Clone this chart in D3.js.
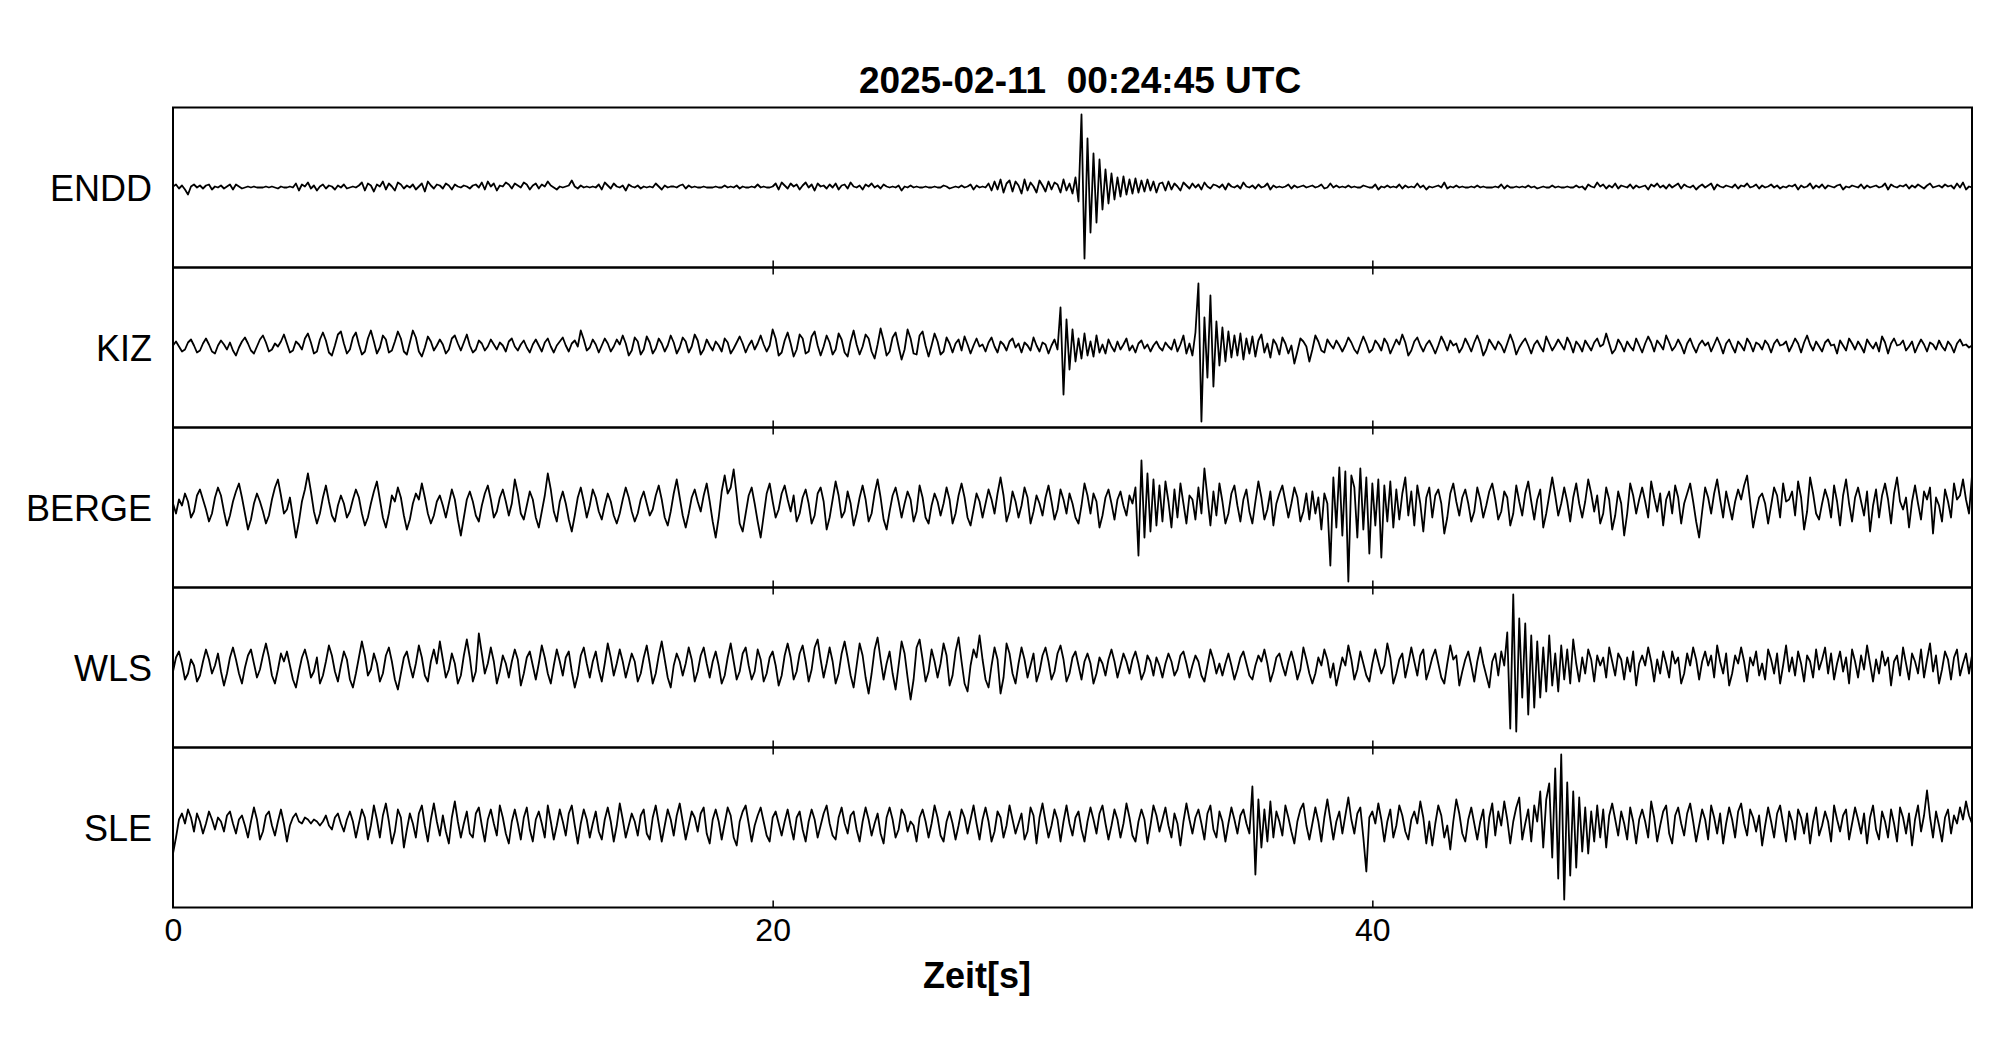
<!DOCTYPE html>
<html>
<head>
<meta charset="utf-8">
<script src="https://cdn.jsdelivr.net/npm/d3@7"></script>
<style>
body { margin: 0; background: #fff; }
text { font-family: "Liberation Sans", Arial, sans-serif; fill: #000; }
</style>
</head>
<body>
<div id="chart"></div>
<script>
// Chart content
var title = "2025-02-11  00:24:45 UTC";
var xLabel = "Zeit[s]";
var stations = ["ENDD", "KIZ", "BERGE", "WLS", "SLE"];
var xTicks = [0, 20, 40];
var sampleRate = 10; // samples per second, t = i / sampleRate

// Traces, one line = one second (amplitude in display units, +-80 = panel edge)
var endd = [
  1, 3, -1, 2, -2, -7, 1, 3, 0, 2,
  -1, 2, 3, -2, 1, 0, 2, -1, 1, 3,
  -2, 3, 1, -1, 0, 1, 0, 1, 0, 0,
  0, 1, 0, 1, 0, -1, 1, 0, 0, 1,
  0, 4, -3, 3, 1, 5, -1, 2, -3, 1,
  3, -1, 2, 1, -2, 2, 0, 3, -1, 0,
  1, 0, 2, 5, -3, 4, 2, -4, 3, 1,
  6, -2, 4, 1, -3, 5, 3, -1, 2, 0,
  3, -2, 1, 4, -4, 6, 2, -1, 3, 2,
  -1, 4, 2, -2, 3, 1, 0, 2, 1, -1,
  2, 3, 0, 5, -2, 6, 1, 4, -3, 2,
  1, 5, 3, -1, 4, 2, 0, 5, 3, -2,
  2, 4, -1, 3, 1, 6, 2, 0, -2, 1,
  0, 1, 2, 7, 1, -1, 2, 0, 1, 0,
  1, 0, 3, -2, 5, 2, -1, 4, 1, 0,
  2, -3, 3, 1, 0, 2, -1, 1, 0, 1,
  0, 4, 1, -2, 2, 0, 1, 1, 0, 2,
  3, -1, 2, 0, 1, 0, 0, 1, 0, 0,
  0, 1, 0, 0, 2, 0, 1, 0, 2, -1,
  1, 0, 0, 1, 0, 3, 0, 1, 0, 0,
  1, 4, -2, 5, 2, -1, 4, 1, 3, -2,
  2, 5, 0, 3, -3, 4, 1, 2, -1, 3,
  0, 4, -2, 2, 3, -1, 5, 1, 0, 2,
  -2, 3, 1, 4, 0, 2, -1, 3, 1, 0,
  1, 0, 2, -3, 1, 0, 2, 0, 1, 0,
  0, 1, 0, 0, 1, 0, 0, 2, 1, -1,
  0, 1, 0, 2, 0, 1, 3, -2, 2, 0,
  1, 0, 4, -3, 6, -2, 8, -5, 4, 7,
  -4, 6, 2, -6, 8, -3, 5, 1, -5, 7,
  2, -4, 6, -2, 5, 3, -5, 8, -3, 4,
  -6, 10, -14, 73, -71, 49, -45, 34, -35, 28,
  -22, 18, -16, 14, -12, 10, -9, 11, -7, 8,
  -6, 9, -5, 7, -4, 8, -3, 6, -5, 4,
  5, -3, 6, -2, 4, 1, -3, 5, 2, -1,
  4, 0, 3, -2, 5, 1, -1, 3, 2, 0,
  3, -2, 4, 1, 0, 2, -1, 5, 1, 0,
  2, -1, 3, 0, 1, 4, -2, 2, 0, 1,
  0, 1, 3, -1, 2, 0, 1, 2, 0, 1,
  2, 0, 1, 3, -1, 0, 4, 0, 2, 0,
  1, 0, 2, 0, 1, 0, 0, 2, 1, 0,
  0, 3, -2, 1, 0, 2, 0, 1, 0, 3,
  -1, 2, 0, 1, 0, 4, 0, 2, -2, 1,
  0, 1, 2, 0, 5, -1, 1, 0, 2, 0,
  1, 0, 0, 1, 0, 2, 0, 1, 0, 0,
  0, 1, 0, 3, -1, 2, 0, 0, 1, 0,
  1, 0, 2, 0, 1, -1, 0, 1, 0, 0,
  2, 0, 1, 0, 0, 1, 0, 0, 2, 0,
  1, -2, 3, 1, 0, 5, 1, 3, -1, 2,
  0, 4, -1, 2, 1, 0, 3, -1, 2, 0,
  1, 2, -2, 3, 1, 4, 0, 2, -1, 3,
  0, 2, 4, -1, 3, 1, 0, 2, -2, 1,
  3, 0, 2, 4, -2, 3, 1, 0, 2, 1,
  0, 3, -1, 2, 1, 4, 0, 1, 3, -1,
  2, 0, 1, 3, 0, 2, -1, 1, 0, 2,
  1, 3, -2, 2, 0, 1, 4, -1, 2, 0,
  3, -1, 2, 1, 0, 2, 3, -2, 1, 0,
  2, 1, 0, 3, -1, 2, 0, 1, 2, 0,
  1, 4, -2, 3, 1, 0, 2, 1, 3, -1,
  2, 0, 3, 1, -1, 2, 4, 0, 1, 2,
  0, 3, 1, 2, -1, 4, 0, 5, -2, 1,
  0
];

var kiz = [
  2, 6, 1, -4, -2, 5, 8, 2, -5, -3,
  4, 9, 3, -4, -6, 2, 7, 3, -2, 5,
  -3, -8, 0, 6, 10, 4, -3, -6, 1, 8,
  12, 5, -4, -2, 4, 1, 6, 13, 4, -5,
  -3, 6, 3, -2, 9, 14, 5, -6, -4, 8,
  15, 7, -5, -8, 2, 13, 16, 4, -6, -2,
  10, 15, 3, -7, -4, 9, 17, 6, -6, 0,
  12, 8, -5, -3, 6, 16, 9, -4, -7, 5,
  17, 10, -4, -9, 0, 11, 6, -3, 2, 8,
  3, -6, -2, 9, 12, 4, -3, 5, 13, 2,
  -5, -2, 7, 4, -3, 1, 8, 3, -2, 5,
  2, -4, 6, 9, 1, -3, 3, 7, 0, -5,
  3, 8, 2, -4, 5, 9, 1, -5, 2, 6,
  10, 2, -4, 4, 7, 1, 17, 8, -3, 0,
  8, 3, -5, 2, 9, 4, -4, 1, 8, 3,
  12, 4, -8, -3, 10, 6, -7, -2, 11, 5,
  -6, -1, 9, 4, -4, 2, 12, 5, -6, 0,
  10, 6, -5, 1, 13, 7, -7, -2, 8, 2,
  -3, 6, 2, -4, 9, 5, -6, -1, 5, 11,
  4, -5, 2, 7, -2, 4, 12, 3, -4, 2,
  18, 9, -8, -5, 7, 15, 4, -9, -2, 13,
  9, -6, -4, 11, 16, 2, -8, 1, 12, 5,
  -7, -2, 14, 8, -5, -9, 6, 17, 3, -7,
  1, 13, 9, -4, -11, 3, 19, 7, -8, -4,
  10, 15, 1, -12, -2, 18, 9, -6, -7, 12,
  16, 2, -9, 2, 14, 6, -7, -4, 10, 4,
  -5, 4, 8, -3, 11, 3, -6, 2, 9, 1,
  3, -4, 5, 10, 1, -5, 6, 3, -3, 6,
  9, 0, 4, -5, 5, 2, -3, 10, 2, -4,
  5, 3, -6, 2, 8, -2, 40, -47, 28, -22,
  18, -14, 9, -11, 14, -8, 6, -9, 12, -5,
  3, -6, 8, 1, -4, 6, -2, 3, 9, -3,
  2, -5, 4, 7, -1, 3, -4, 2, 6, 0,
  -3, 5, 1, -2, 8, -4, 3, 12, -6, 4,
  -8, 15, 64, -74, 30, -30, 52, -39, 26, -18,
  20, -14, 16, -10, 12, -8, 14, -12, 9, -6,
  11, -9, 7, 13, -5, 4, -10, 8, 3, -7,
  10, 4, -6, 2, -16, -4, 9, 6, 1, -14,
  -2, 12, 6, -3, -5, 8, 3, -1, 7, 2,
  -4, 2, 10, 5, -2, -6, 3, 11, 4, -5,
  -2, 7, 3, -3, 9, 4, -6, 1, 8, 3,
  13, 5, -8, -3, 6, 10, 2, -4, 3, 7,
  1, -6, 2, 11, 5, -3, 7, 2, 4, -5,
  0, 9, 3, -4, 5, 12, 4, -8, -2, 8,
  3, -2, 6, 2, -5, 4, 13, 5, -7, 0,
  5, 9, 2, -6, 3, 7, 1, -4, 11, 4,
  -3, 2, 8, 3, -2, 10, 4, -5, 6, 2,
  -4, 7, 2, -3, 5, 9, 1, 3, 14, 4,
  -6, -2, 8, 3, -4, 6, 1, -3, 9, 2,
  -5, 4, 11, 5, -4, 7, 3, -2, 12, 5,
  -3, 1, 8, 2, -6, 4, 9, 1, -5, 3,
  7, 2, 5, -4, 3, 10, 3, -6, 4, 8,
  1, -5, 6, 2, -3, 9, 4, -4, 5, 3,
  -2, 7, 3, -5, 4, 8, 2, 3, 6, -4,
  2, 9, 4, -5, 5, 12, 3, -3, 6, 1,
  -4, 5, 8, 2, 3, -6, 7, 2, -3, 9,
  4, -2, 6, 1, -5, 8, 3, -1, 5, -4,
  11, 5, -6, 4, 9, 2, 3, 7, -3, 1,
  6, -5, 2, 8, 3, -4, 5, 3, -2, 7,
  1, -3, 6, 2, -5, 4, 8, 2, 3, 0,
  2
];

var berge = [
  4, -6, 8, 2, 14, 6, -10, -4, 12, 18,
  8, -2, -14, -6, 10, 20, 12, -4, -18, -8,
  6, 16, 24, 10, -6, -22, -12, 4, 14, 6,
  -4, -16, -8, 8, 20, 28, 12, -6, -2, 10,
  -10, -30, -14, 6, 18, 34, 16, -4, -16, -6,
  10, 22, 6, -8, -14, 2, 12, 4, -10, -4,
  8, 18, 10, -6, -18, -10, 4, 16, 26, 8,
  -10, -20, -6, 12, 6, 20, 10, -8, -22, -12,
  4, 14, 8, 24, 10, -6, -16, -8, 6, 12,
  2, -10, 4, 18, 8, -12, -28, -10, 8, 16,
  6, -8, -14, 2, 14, 22, 8, -10, -4, 10,
  18, 6, -8, 4, 28, 14, -6, -12, 2, 16,
  8, -10, -20, -4, 12, 34, 18, -4, -14, 6,
  16, 4, -12, -24, -8, 10, 20, 6, -10, 2,
  18, 10, -4, -12, 2, 14, 6, -8, -16, -6,
  8, 20, 10, -4, -14, -6, 8, 16, 4, -8,
  -2, 12, 22, 8, -10, -18, -4, 14, 28, 10,
  -8, -20, -6, 10, 18, 6, -4, 12, 24, 6,
  -14, -30, -10, 16, 32, 14, 20, 38, 12, -16,
  -24, -6, 12, 20, 4, -14, -30, -8, 14, 24,
  6, -10, -2, 14, 22, 8, -4, 12, -14, -6,
  10, 18, 4, -16, -8, 14, 20, 6, -22, -10,
  8, 26, 12, -10, -4, 16, 4, -18, -6, 10,
  22, 8, -14, -6, 14, 28, 10, -12, -22, -4,
  12, 20, 6, -10, 4, 16, 8, -14, -4, 22,
  10, -10, -16, 2, 14, 6, -8, 4, 20, 8,
  -16, -6, 12, 24, 10, -10, -18, -2, 14, 6,
  -10, 4, 18, 8, -6, 14, 30, 12, -14, -4,
  16, 6, -10, 2, 20, 10, -16, -4, 12, 4,
  -8, 10, 22, 6, -12, -2, 18, 8, -6, 14,
  4, -10, -16, 2, 24, 12, -6, 14, 6, -20,
  -8, 10, 18, 4, -12, 8, 16, 2, -8, 12,
  4, 20, -48, 47, -30, 34, -24, 28, -18, 22,
  -14, 26, 6, -20, 18, -10, 24, 4, -16, 12,
  8, -12, 20, -6, 39, 10, -18, 16, -8, 24,
  6, -16, -6, 14, 22, 2, -14, 8, 18, -4,
  -16, 6, 26, 10, -12, -2, 16, -18, 4, 14,
  22, 6, -10, 4, 20, 10, -14, -4, 14, -12,
  16, -6, 10, -22, 14, 4, -58, 30, -20, 40,
  -28, 36, -74, 32, 20, -30, 39, -22, 30, -46,
  24, -18, 28, -50, 22, -14, 26, -20, 18, -12,
  14, 30, -8, 16, -18, 22, 4, -24, 10, 20,
  -10, 12, 18, 4, -26, -10, 14, 24, 6, -8,
  10, 18, 4, -14, -4, 20, 8, -10, 2, 16,
  24, 8, -12, -4, 16, 10, -18, -6, 22, 6,
  -8, 14, 26, 6, -12, 8, 18, -20, -6, 12,
  30, 12, -8, 4, 20, 6, -14, 10, 24, 4,
  -10, 6, 28, 14, -4, 12, -16, -6, 20, 8,
  -22, -8, 16, 4, -28, -6, 24, 12, -6, 8,
  20, 6, -10, 26, 10, -4, 14, -18, 8, 16,
  -6, 22, 10, -16, 4, 14, 24, 6, -14, -30,
  -4, 20, 10, -6, 14, 28, 8, -10, 16, 2,
  -12, 6, 18, 8, 22, 32, 6, -20, -4, 10,
  14, 4, -16, 2, 20, 12, -10, 24, 6, 8,
  16, -8, 26, 10, -22, -4, 30, 14, -6, -12,
  4, 18, 8, -10, 22, 6, -18, 12, 28, 4,
  -14, 10, 20, 6, -8, 16, -24, 2, 18, -10,
  12, 24, 8, -16, 14, 30, 6, -2, 10, -20,
  6, 22, 4, -12, 16, 8, 20, -26, 10, 2,
  -14, 18, 6, -10, 24, 8, 12, 28, 8, -6,
  32
];

var wls = [
  -4, 10, 16, 4, -12, -6, 8, 2, -14, -8,
  6, 18, 8, -6, 2, 14, -4, -18, -6, 10,
  20, 8, -6, -16, 0, 12, 18, 4, -10, -2,
  12, 24, 10, -8, -16, -2, 14, 6, 16, 2,
  -12, -20, -4, 10, 18, 6, -10, -4, 10, -16,
  -8, 6, 22, 12, -4, -14, 2, 16, 8, -12,
  -20, -6, 10, 26, 12, -8, -2, 14, 4, -14,
  -6, 12, 20, 6, -12, -22, -6, 10, 16, 2,
  -10, 4, 22, 10, -8, -14, 6, 18, 4, 26,
  8, -10, -2, 14, 4, -16, -8, 12, 28, 10,
  -14, -4, 34, 14, -6, 4, 20, 6, -16, -4,
  12, 4, -10, 6, 18, 8, -18, -6, 10, 16,
  2, -12, 4, 22, 10, -6, -16, 2, 18, 6,
  -8, 10, 16, -4, -20, -8, 12, 20, 4, -10,
  6, 16, -2, -14, 4, 24, 10, -8, 4, 18,
  6, -10, 2, 14, 6, -14, -6, 10, 22, 4,
  -16, -6, 12, 26, 8, -10, -20, 2, 14, 6,
  -8, 4, 20, 8, -14, -4, 12, 20, 4, -10,
  6, 16, 2, -16, -8, 10, 24, 6, -12, -4,
  14, 20, 2, -12, -4, 18, 8, -14, -6, 10,
  16, 2, -18, -8, 12, 24, 10, -12, -4, 14,
  22, 6, -14, -2, 20, 28, 8, -10, 4, 20,
  6, -16, -6, 14, 26, 10, -8, -20, 2, 24,
  12, -10, -26, -6, 18, 30, 8, -12, 4, 16,
  -6, -22, 2, 26, 14, -10, -32, -12, 20, 28,
  8, -14, -4, 18, 6, -10, 4, 24, 12, -18,
  -8, 16, 30, 6, -16, -24, 2, 18, 10, 32,
  8, -12, -20, 2, 20, 8, -26, -10, 24, 14,
  -6, -16, 4, 20, 8, -10, 2, 14, -14, -4,
  12, 20, 6, -12, -4, 14, 22, 8, -14, -6,
  10, 16, 2, -12, 6, 14, 4, -16, -6, 10,
  4, -8, 8, 18, 6, -10, 2, 14, 6, -6,
  8, 16, 4, -12, -4, 12, 6, -8, 10, 2,
  -10, 4, 14, 6, -8, -2, 12, 16, 4, -10,
  2, 12, 6, -8, -14, 2, 18, 8, -6, 4,
  -8, 4, 14, 2, -12, -2, 10, 16, 4, -8,
  -12, 2, 12, 6, 18, 4, -14, -4, 10, 14,
  2, -8, 6, 16, 4, -12, -2, 20, 8, -6,
  -16, -6, 10, 2, 18, 8, -10, 4, -18, -4,
  10, 2, 22, 8, -12, -2, 16, 4, -8, -14,
  4, 18, 6, -6, 2, 24, 10, -16, -6, 8,
  14, -10, 4, 20, 6, -8, 12, 18, -12, -2,
  10, 18, 4, -10, -16, 4, 22, 8, 12, -18,
  -4, 8, 16, 2, -14, 6, 20, 4, -8, -20,
  6, 14, -8, 16, 2, 35, -61, 73, -64, 49,
  -30, 44, -47, 32, -40, 26, -30, 20, -24, 32,
  -18, 14, -24, 22, -12, 18, -16, 28, 4, -14,
  10, -6, 18, 8, -14, 12, 2, 10, -10, 20,
  6, -8, 14, 8, -12, 10, -4, 16, -18, 4,
  12, 2, 20, 6, -14, 8, -6, 16, 4, -10,
  16, 4, 10, -16, -6, 14, 2, 20, 8, -12,
  6, 16, 2, 12, -10, 22, 6, -6, 14, -18,
  -6, 12, 4, 20, 6, -14, 10, 2, 16, -8,
  4, -12, 18, 8, -6, 14, -16, 2, 22, -4,
  10, -8, 16, 4, -14, 12, 6, -10, 18, -2,
  8, 20, -6, 14, -12, 4, 16, -4, 10, -16,
  18, 6, -10, 12, -2, 22, 4, -14, 8, -6,
  16, 2, 10, -18, 6, 12, -8, 20, 4, -12,
  14, 6, -6, 18, -10, 8, 24, -4, 12, -16,
  -2, 16, 8, -12, 10, 18, -8, 4, 14, -6,
  12
];

var sle = [
  -26, -10, 8, 14, 4, 18, 10, -4, 14, 6,
  -6, 4, 16, 8, -2, 10, 6, -4, 12, 16,
  4, -6, 8, 12, 2, -10, 6, 20, 8, -12,
  -4, 12, 16, 2, -8, 6, 18, 4, -14, 2,
  10, 14, 6, 4, 10, 8, 4, 8, 6, 2,
  6, 12, 2, -2, 10, 14, 4, -4, 8, 16,
  6, -10, 4, 18, 10, -12, 2, 22, 8, -10,
  12, 24, 6, -16, -4, 18, 10, -20, -2, 14,
  4, -10, 14, 22, 2, -14, 8, 24, 6, -8,
  12, -4, -16, 10, 26, 6, -10, 4, 16, -6,
  -10, 14, 20, 2, -14, 8, 18, 4, -8, 22,
  10, -6, -16, 6, 18, 4, -12, 10, 20, -2,
  -14, 8, 16, 4, -10, 22, 6, -12, 2, 18,
  6, -8, 14, 22, 2, -16, 4, 18, 8, -10,
  4, 16, -4, -12, 8, 20, 6, -14, 2, 24,
  8, -10, 2, 14, 6, -8, 12, 18, -6, -12,
  10, 22, 4, -14, 2, 18, 8, -8, 12, 24,
  6, -12, 2, 16, 10, -4, 14, 20, -6, -16,
  8, 18, 6, -12, 4, 20, 12, -10, -18, 6,
  16, 22, 4, -14, 2, 12, 20, 6, -8, -14,
  10, 16, 4, -8, 6, 18, 2, -12, 10, 16,
  -2, -14, 6, 18, 8, -10, 2, 14, 22, 4,
  -8, -12, 10, 20, 4, -6, 12, 16, -2, -14,
  6, 20, 8, -8, 4, 14, -6, -16, 10, 20,
  8, -10, -2, 18, 12, -4, 6, 2, -14, 10,
  18, 6, -10, 4, 22, 10, -8, -14, 6, 16,
  4, -12, 2, 18, 10, -6, 8, 22, 4, -12,
  8, 20, 6, -14, -4, 16, 10, -10, 2, 22,
  8, -6, 4, 14, -12, -4, 20, 12, -16, 10,
  24, 6, -10, 2, 18, 8, -14, 6, 22, 4,
  -8, 10, 16, -2, -14, 6, 20, 8, -6, 14,
  22, 4, -12, 2, 18, 8, -10, 4, 24, 10,
  -8, -14, 6, 18, 8, -16, 2, 22, 12, -4,
  8, 20, 2, -10, 14, 4, -18, 6, 24, 8,
  -6, 10, 18, 4, -12, 14, 22, -2, -10, 16,
  6, -14, 4, 20, 8, -6, 12, 18, 4, -6,
  41, -47, 28, -20, 18, -14, 26, -10, 16, 6,
  -8, 22, 10, -4, -16, 6, 18, 24, 2, -12,
  4, 20, 6, -14, 10, 28, 8, -12, 6, 16,
  -6, 12, 30, 8, -6, 14, 20, -10, -44, 10,
  16, 4, 24, 8, -14, 6, 18, -10, 2, 22,
  12, -4, -12, 8, 16, 4, 26, 10, -16, 6,
  -18, 4, 22, 12, -10, 2, -22, 6, 28, 14,
  -6, -14, 8, 20, 4, -12, 6, 18, -20, 10,
  24, -8, 16, 2, 26, 8, -16, 6, 20, 30,
  -12, 4, 18, -14, 22, 6, 36, -20, 28, 44,
  -30, 59, -51, 73, -72, 45, -48, 36, -40, 30,
  -24, 20, -26, 16, -14, 22, -10, 18, -20, 12,
  24, 8, -8, 16, 4, -12, 20, 6, -16, 8,
  18, 6, -10, 26, 10, -14, 2, 16, 22, -6,
  -16, 12, 20, 4, -8, 14, 24, 6, -14, 2,
  18, 8, -12, 22, 10, -6, 14, -16, 4, 20,
  8, -10, 16, 24, 4, -8, 18, 10, -4, 12,
  -18, 2, 20, 6, -10, 14, 22, 4, -14, 16,
  6, -12, 18, 10, -6, 14, -16, 6, 20, -8,
  2, 16, 6, -14, 22, 8, -4, 12, 18, -12,
  4, 20, 8, -6, 14, -16, 10, 22, -2, -12,
  16, 6, -10, 18, 4, -14, 20, 10, -6, 14,
  -18, 8, 22, -4, 12, 37, 10, -10, 16, 2,
  -14, 10, 18, -6, 12, 4, 20, 8, 26, 12,
  4
];

var traces = [endd, kiz, berge, wls, sle];

// Layout
var width = 2005;
var height = 1041;
var plotLeft = 173;
var plotRight = 1972;
var plotTop = 107.5;
var plotBottom = 907.5;

var svg = d3.select("#chart").append("svg")
    .attr("width", width)
    .attr("height", height);

// Scales
var xScale = d3.scaleLinear()
    .domain([0, 60])
    .range([plotLeft, plotRight]);
var panelScale = d3.scaleBand()
    .domain(stations)
    .range([plotTop, plotBottom]);
var panelHeight = panelScale.bandwidth();
var yScale = d3.scaleLinear()
    .domain([-80, 80])
    .range([panelHeight, 0]);

var line = d3.line()
    .x((d, i) => xScale(i / sampleRate))
    .y(d => yScale(d));

// Panels
stations.forEach(function(name, k) {
    var g = svg.append("g")
        .attr("class", "panel")
        .attr("transform", "translate(0," + panelScale(name) + ")");

    g.append("clipPath")
        .attr("id", "clip" + k)
        .append("rect")
        .attr("x", plotLeft)
        .attr("y", 0)
        .attr("width", plotRight - plotLeft)
        .attr("height", panelHeight);

    g.append("path")
        .datum(traces[k])
        .attr("clip-path", "url(#clip" + k + ")")
        .attr("fill", "none")
        .attr("stroke", "#000")
        .attr("stroke-width", 1.8)
        .attr("stroke-linejoin", "round")
        .attr("d", line);

    // inward ticks
    var bottomTicks = g.append("g")
        .attr("transform", "translate(0," + panelHeight + ")")
        .call(d3.axisBottom(xScale).tickValues([20, 40]).tickSize(-7).tickFormat(""));
    bottomTicks.select(".domain").remove();
    bottomTicks.selectAll("line").attr("stroke-width", 1.5);

    if (k > 0) {
        var topTicks = g.append("g")
            .call(d3.axisTop(xScale).tickValues([20, 40]).tickSize(-7).tickFormat(""));
        topTicks.select(".domain").remove();
        topTicks.selectAll("line").attr("stroke-width", 1.5);
    }

    g.append("rect")
        .attr("x", plotLeft)
        .attr("y", 0)
        .attr("width", plotRight - plotLeft)
        .attr("height", panelHeight)
        .attr("fill", "none")
        .attr("stroke", "#000")
        .attr("stroke-width", 2);

    g.append("text")
        .attr("x", 152)
        .attr("y", panelHeight / 2 + 13)
        .attr("text-anchor", "end")
        .style("font-size", "36px")
        .text(name);
});

// x axis labels
var xAxisG = svg.append("g")
    .attr("transform", "translate(0," + plotBottom + ")")
    .call(d3.axisBottom(xScale).tickValues(xTicks).tickSize(0).tickPadding(11));
xAxisG.select(".domain").remove();
xAxisG.selectAll("text")
    .style("font-family", "'Liberation Sans', Arial, sans-serif")
    .style("font-size", "32px");

svg.append("text")
    .attr("x", 977)
    .attr("y", 988)
    .attr("text-anchor", "middle")
    .style("font-size", "36px")
    .style("font-weight", "bold")
    .text(xLabel);

// Title
svg.append("text")
    .attr("x", 1080)
    .attr("y", 93)
    .attr("text-anchor", "middle")
    .style("font-size", "37px")
    .style("font-weight", "bold")
    .style("white-space", "pre")
    .text(title);
</script>
</body>
</html>
